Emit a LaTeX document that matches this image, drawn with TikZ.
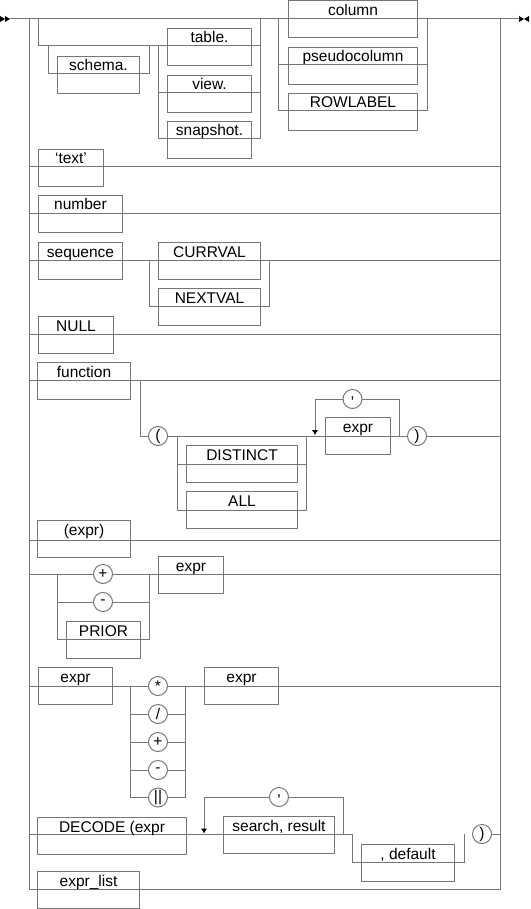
\documentclass[tikz,border=0pt]{standalone}
\usepackage{fontspec}
\setmainfont{Liberation Sans}
\usetikzlibrary{arrows.meta}
\definecolor{railgray}{RGB}{118,118,118}

\begin{document}
\begin{tikzpicture}[x=1pt,y=-1pt,>=Latex,
    font=\fontsize{15.5pt}{18pt}\selectfont,
    rail/.style={draw=railgray,line width=1pt},
    kwbox/.style={draw=railgray,line width=1pt,anchor=north west,inner sep=0pt,
        minimum height=37pt,text height=14.5pt,text depth=22.5pt},
    opcirc/.style={circle,draw=railgray,line width=1pt,fill=white,
        inner sep=0pt,minimum size=19pt}]
    \useasboundingbox (0,0) rectangle (530,909);

    %======================================================
    % frame: main line, both sides, last row
    %======================================================
    \draw[rail] (10,19) -- (519,19);
    \draw[rail] (29,19) -- (29,889) -- (500,889) -- (500,19);

    % start and end marks
    \foreach \x in {0,5}{
        \fill (\x,16) -- (\x+5,19) -- (\x,22) -- cycle;
    }
    \fill (519,16) -- (524,19) -- (519,22) -- cycle;
    \fill (529,16) -- (524,19) -- (529,22) -- cycle;

    %======================================================
    % rails of every row
    %======================================================
    % schema / table / column
    \draw[rail] (38,19) -- (38,46) -- (260,46);
    \draw[rail] (260,19) -- (260,139) -- (158,139) -- (158,46);
    \draw[rail] (158,93) -- (260,93);
    \draw[rail] (48,46) -- (48,74) -- (149,74) -- (149,46);
    \draw[rail] (278,19) -- (278,111) -- (427,111) -- (427,19);
    \draw[rail] (278,65) -- (427,65);

    % plain rows
    \foreach \y in {167,214,260,334,380,540,574,686}{
        \draw[rail] (29,\y) -- (500,\y);
    }

    % sequence
    \draw[rail] (149,260) -- (149,306) -- (269,306) -- (269,260);

    % function
    \draw[rail] (140,380) -- (140,436) -- (500,436);
    \draw[rail] (177,436) -- (177,510) -- (306,510) -- (306,436);
    \draw[rail] (177,464) -- (306,464);
    \draw[rail,-{Latex[length=5pt,width=6.5pt,color=black]}]
        (399,436) -- (399,399) -- (315,399) -- (315,435);

    % unary operators
    \draw[rail] (57,574) -- (57,639) -- (149,639) -- (149,574);
    \draw[rail] (57,602) -- (149,602);

    % binary operators
    \draw[rail] (130,686) -- (130,797.5) -- (185,797.5) -- (185,686);
    \foreach \y in {714,742,770}{
        \draw[rail] (130,\y) -- (185,\y);
    }

    % decode
    \draw[rail] (29,834) -- (352,834) -- (352,862) -- (464,862) -- (464,834);
    \draw[rail,-{Latex[length=5pt,width=6.5pt,color=black]}]
        (343,834) -- (343,797) -- (204,797) -- (204,833.5);

    %======================================================
    % boxes
    %======================================================
    \node[kwbox,minimum width=82pt]  (schema)   at (57,56)    {schema.};
    \node[kwbox,minimum width=84pt]  (table)    at (167,28)   {table.};
    \node[kwbox,minimum width=84pt]  (view)     at (167,75)   {view.};
    \node[kwbox,minimum width=84pt]  (snapshot) at (167,121)  {snapshot.};
    \node[kwbox,minimum width=129pt] (column)   at (288,0.5)  {column};
    \node[kwbox,minimum width=129pt] (pseudocol) at (288,47)  {pseudocolumn};
    \node[kwbox,minimum width=129pt] (rowlabel) at (288,93)   {ROWLABEL};

    \node[kwbox,minimum width=65pt]  (text)     at (38,149)   {`text'};
    \node[kwbox,minimum width=84pt]  (number)   at (38,195)   {number};
    \node[kwbox,minimum width=84pt]  (sequence) at (38,242)   {sequence};
    \node[kwbox,minimum width=102pt] (currval)  at (158,242)  {CURRVAL};
    \node[kwbox,minimum width=102pt] (nextval)  at (158,288)  {NEXTVAL};
    \node[kwbox,minimum width=75pt]  (null)     at (38,316)   {NULL};

    \node[kwbox,minimum width=93pt]  (function) at (37,362)   {function};
    \node[kwbox,minimum width=111pt] (distinct) at (186,445)  {DISTINCT};
    \node[kwbox,minimum width=111pt] (all)      at (186,491)  {ALL};
    \node[kwbox,minimum width=65pt]  (argexpr)  at (325,417)  {expr};
    \node[kwbox,minimum width=93pt]  (parexpr)  at (37,520)   {(expr)};

    \node[kwbox,minimum width=65pt]  (unexpr)   at (158,556)  {expr};
    \node[kwbox,minimum width=74pt]  (prior)    at (66,621)   {PRIOR};
    \node[kwbox,minimum width=74pt]  (lhsexpr)  at (38,667)   {expr};
    \node[kwbox,minimum width=74pt]  (rhsexpr)  at (204,667)  {expr};

    \node[kwbox,minimum width=149pt] (decode)   at (37,817)   {DECODE (expr};
    \node[kwbox,minimum width=111pt] (search)   at (223,816)  {search, result};
    \node[kwbox,minimum width=93pt]  (default)  at (361,844)  {, default};
    \node[kwbox,minimum width=102pt] (exprlist) at (37,871)   {expr\_list};

    %======================================================
    % operator circles
    %======================================================
    \node[opcirc] (lparen)  at (158,436)   {(};
    \node[opcirc] (comma1)  at (352.5,399) {\raisebox{2pt}{,}};
    \node[opcirc] (rparen1) at (417,436)   {)};

    \node[opcirc] (plus1)   at (103,574)   {+};
    \node[opcirc] (minus1)  at (103,602)   {-};

    \node[opcirc] (times)   at (158,686)   {*};
    \node[opcirc] (divide)  at (158,714)   {/};
    \node[opcirc] (plus2)   at (158,742)   {+};
    \node[opcirc] (minus2)  at (158,770)   {-};
    \node[opcirc] (concat)  at (158,797.5) {||};

    \node[opcirc] (comma2)  at (279,797)   {\raisebox{2pt}{,}};
    \node[opcirc] (rparen2) at (482,834)   {)};
    \draw[rail] (rparen2) -- (500,834);
\end{tikzpicture}
\end{document}
